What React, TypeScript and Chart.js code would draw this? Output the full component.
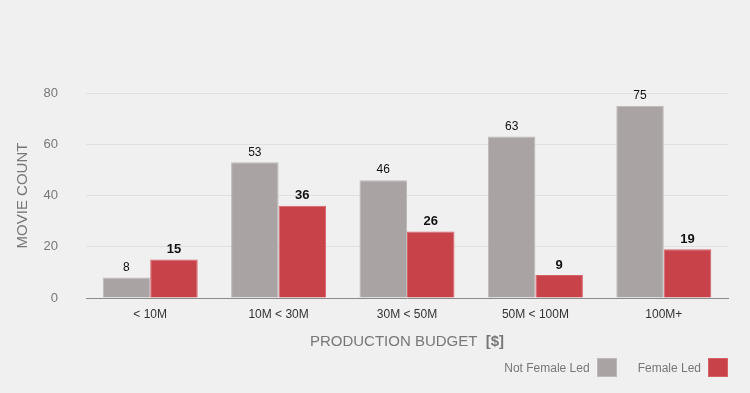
import React, { useEffect, useRef } from "react";
import { Chart, registerables } from "chart.js";

Chart.register(...registerables);

const categories = ["< 10M", "10M < 30M", "30M < 50M", "50M < 100M", "100M+"];
const notFemaleLed = [8, 53, 46, 63, 75];
const femaleLed = [15, 36, 26, 9, 19];
const seriesNames = ["Not Female Led", "Female Led"];
const yTicks = [0, 20, 40, 60, 80];
const xTitleMain = "PRODUCTION BUDGET  ";
const xTitleUnit = "[$]";

const GRAY = "#a9a4a3";
const RED = "#c8424a";
const FONT = "'Liberation Sans', Arial, Helvetica, sans-serif";

const valueLabels = {
  id: "valueLabels",
  afterDatasetsDraw(chart: any) {
    const ctx = chart.ctx;
    chart.data.datasets.forEach((ds: any, i: number) => {
      const meta = chart.getDatasetMeta(i);
      meta.data.forEach((bar: any, j: number) => {
        ctx.save();
        ctx.fillStyle = "#111";
        ctx.textAlign = "center";
        ctx.textBaseline = "middle";
        ctx.font = i === 0 ? `12px ${FONT}` : `bold 13px ${FONT}`;
        ctx.fillText(String(ds.data[j]), bar.x, bar.y - 10);
        ctx.restore();
      });
    });
  },
};

const xTitle = {
  id: "xTitle",
  afterDraw(chart: any) {
    const ctx = chart.ctx;
    const area = chart.chartArea;
    const cx = (area.left + area.right) / 2;
    const y = area.bottom + 44;
    ctx.save();
    ctx.fillStyle = "#777";
    ctx.textBaseline = "middle";
    ctx.font = `15px ${FONT}`;
    const w1 = ctx.measureText(xTitleMain).width;
    ctx.font = `bold 15px ${FONT}`;
    const w2 = ctx.measureText(xTitleUnit).width;
    const start = cx - (w1 + w2) / 2;
    ctx.textAlign = "left";
    ctx.font = `15px ${FONT}`;
    ctx.fillText(xTitleMain, start, y);
    ctx.font = `bold 15px ${FONT}`;
    ctx.fillText(xTitleUnit, start + w1, y);
    ctx.restore();
  },
};

export default function App() {
  const ref = useRef<HTMLCanvasElement>(null);
  useEffect(() => {
    document.body.style.margin = "0";
    const chart = new Chart(ref.current!, {
      type: "bar",
      data: {
        labels: categories,
        datasets: [
          {
            label: seriesNames[0],
            data: notFemaleLed,
            backgroundColor: GRAY,
            borderColor: "#bdb9b8",
            borderWidth: 1,
          },
          {
            label: seriesNames[1],
            data: femaleLed,
            backgroundColor: RED,
            borderColor: "#d76168",
            borderWidth: 1,
          },
        ],
      },
      options: {
        animation: false,
        responsive: false,
        maintainAspectRatio: false,
        layout: { padding: { top: 93, bottom: 33, right: 22, left: 0 } },
        plugins: { legend: { display: false }, tooltip: { enabled: false } },
        datasets: { bar: { categoryPercentage: 0.74, barPercentage: 1 } },
        scales: {
          x: {
            grid: { display: false, drawTicks: false },
            border: { display: true, color: "#8a8a8a", width: 1 },
            ticks: { color: "#333", font: { family: FONT, size: 12 }, padding: 9 },
            title: { display: false },
            afterFit: (s: any) => {
              s.height = 62;
            },
          },
          y: {
            min: 0,
            max: 80,
            afterBuildTicks: (s: any) => {
              s.ticks = yTicks.map((v) => ({ value: v }));
            },
            grid: { color: "#e0e0e0", drawTicks: false },
            border: { display: false },
            ticks: { color: "#777", font: { family: FONT, size: 13 }, padding: 28 },
            title: {
              display: true,
              text: "MOVIE COUNT",
              color: "#777",
              font: { family: FONT, size: 15 },
              padding: { top: 14, bottom: 0 },
            },
            afterFit: (s: any) => {
              s.width = 86;
            },
          },
        },
      },
      plugins: [valueLabels, xTitle],
    });
    return () => chart.destroy();
  }, []);

  return (
    <div style={{ position: "relative", width: 750, height: 393, background: "#f0f0f0" }}>
      <canvas ref={ref} width={750} height={393} style={{ display: "block" }} />
      <div
        style={{
          position: "absolute",
          right: 22,
          top: 358,
          display: "flex",
          alignItems: "center",
          fontFamily: FONT,
          fontSize: 12,
          color: "#777",
        }}
      >
        <span>{seriesNames[0]}</span>
        <span style={{ display: "inline-block", width: 20, height: 19, background: GRAY, border: "1px solid #bdb9b8", marginLeft: 7, boxSizing: "border-box" }} />
        <span style={{ marginLeft: 21 }}>{seriesNames[1]}</span>
        <span style={{ display: "inline-block", width: 20, height: 19, background: RED, border: "1px solid #d76168", marginLeft: 7, boxSizing: "border-box" }} />
      </div>
    </div>
  );
}
